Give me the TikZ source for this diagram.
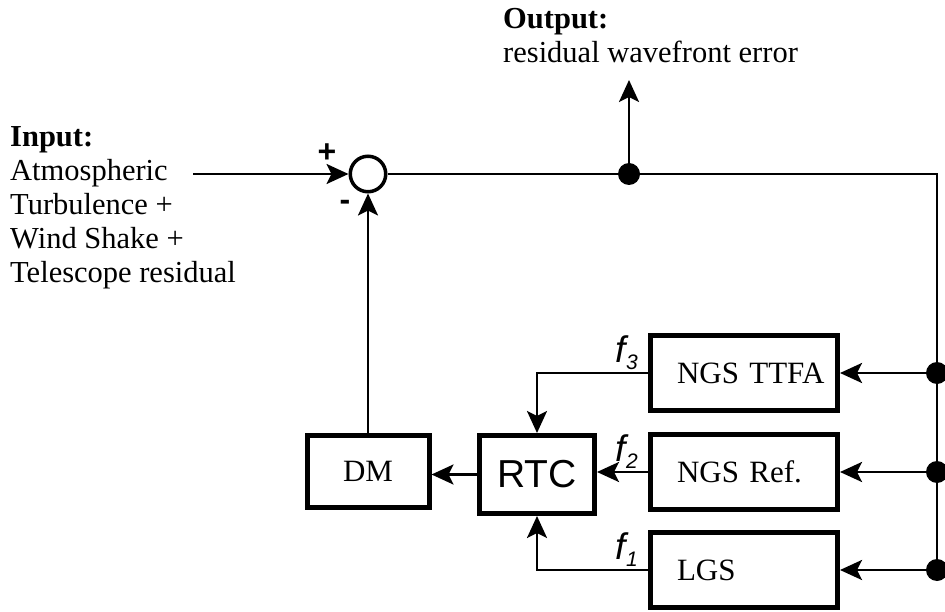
\documentclass[tikz,border=0pt]{standalone}
\usepackage{fontspec}
\setmainfont{Liberation Serif}
\setsansfont{Liberation Sans}
\usetikzlibrary{arrows.meta}

\begin{document}
\begin{tikzpicture}[x=1pt,y=-1pt,
  wire/.style={line width=2.8pt},
  arr/.style={wire,-{Stealth[length=22pt,width=20pt,inset=5pt]}},
  blk/.style={draw,line width=5pt,inner sep=0pt,font=\fontsize{31}{31}\selectfont},
  wfs/.style={blk,minimum width=187pt,minimum height=75pt,text width=134pt,align=left},
  dot/.style={circle,fill=black,inner sep=0pt,minimum size=22pt},
  flabel/.style={inner sep=0pt,anchor=south east,font=\sffamily\itshape\fontsize{37}{37}\selectfont},
  sgn/.style={inner sep=0pt,font=\sffamily\bfseries\fontsize{32}{32}\selectfont},
  txt/.style={anchor=base west,align=left,inner sep=0pt,font=\fontsize{30.5}{34}\selectfont}]
\useasboundingbox (0,0) rectangle (945,612);
% texts (base = last line)
\node[txt] (inp) at (10,283) {\textbf{Input:}\\Atmospheric\\Turbulence +\\Wind Shake +\\Telescope residual};
\node[txt] (outp) at (503,63) {\textbf{Output:}\\residual wavefront error};
% summing point
\node[circle,draw,line width=3.5pt,minimum size=35.5pt,inner sep=0pt] (sum) at (368,174) {};
\node[sgn] (plus) at (327,153) {+};
\node[sgn] (minus) at (345,205) {-};
% blocks
\node[blk,minimum width=122pt,minimum height=72pt] (dm) at (368,471.5) {DM};
\node[blk,minimum width=115pt,minimum height=78pt,font=\sffamily\fontsize{39}{39}\selectfont] (rtc) at (537,474.5) {RTC};
\node[wfs] (ttfa) at (744,373) {\mbox{NGS TTFA}};
\node[wfs] (ref) at (744,472) {\mbox{NGS Ref.}};
\node[wfs] (lgs) at (744,570) {LGS};
% junctions
\coordinate (src) at (193,174);
\coordinate (outtip) at (629,80);
\coordinate (corner) at (937,174);
\node[dot] (j1) at (629,174) {};
\node[dot] (dt) at (937,373) {};
\node[dot] (dr) at (937,472) {};
\node[dot] (dl) at (937,570) {};
% wires
\draw[arr] (src) -- (sum);
\draw[wire] (sum) -- (j1) -- (corner) -- (dl.center);
\draw[arr] (j1) -- (outtip);
\draw[arr] (dt) -- (ttfa);
\draw[arr] (dr) -- (ref);
\draw[arr] (dl) -- (lgs);
\draw[arr] (ttfa.west) -| (rtc.north);
\draw[arr] (ref.west) -- (ref.west -| rtc.east);
\draw[arr] (lgs.west) -| (rtc.south);
\draw[arr] (rtc.west) -- (rtc.west -| dm.east);
\draw[arr] (dm) -- (sum);
% rates
\node[flabel] (f3) at ([xshift=-10pt,yshift=3pt]ttfa.west) {f\raisebox{-7pt}{\fontsize{21}{21}\selectfont 3}};
\node[flabel] (f2) at ([xshift=-10pt,yshift=3pt]ref.west) {f\raisebox{-7pt}{\fontsize{21}{21}\selectfont 2}};
\node[flabel] (f1) at ([xshift=-10pt,yshift=3pt]lgs.west) {f\raisebox{-7pt}{\fontsize{21}{21}\selectfont 1}};
\end{tikzpicture}
\end{document}
